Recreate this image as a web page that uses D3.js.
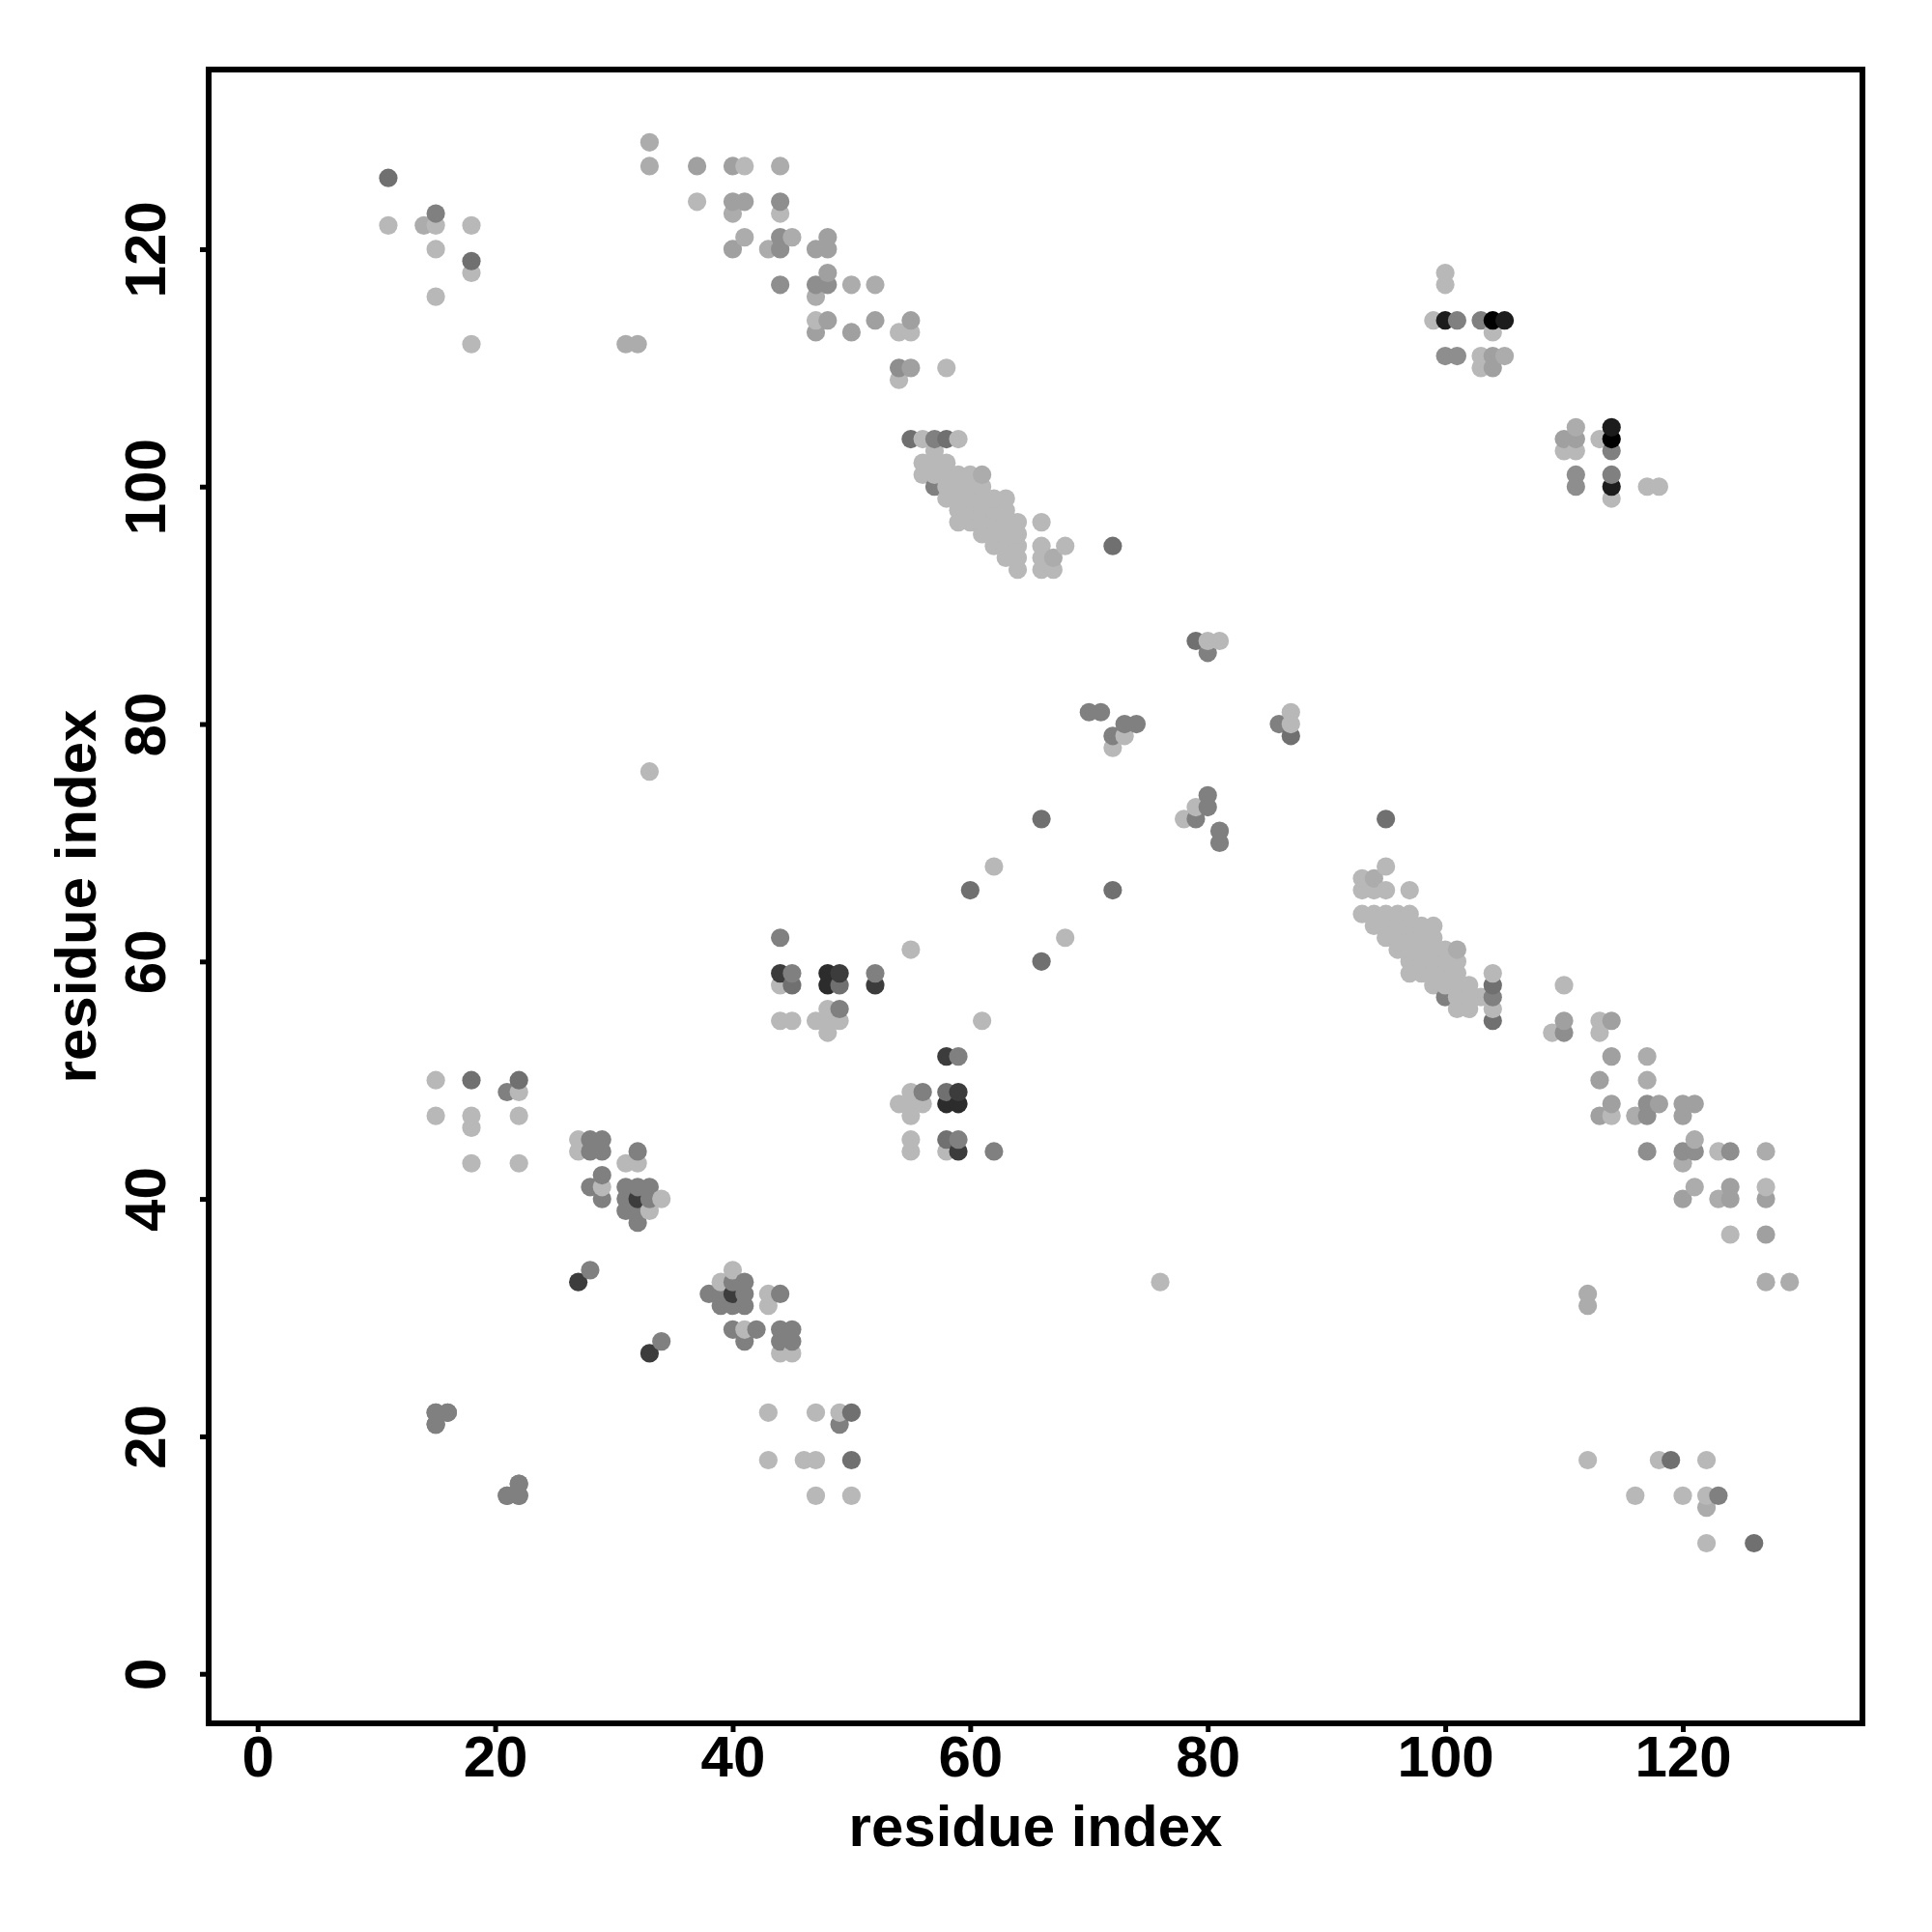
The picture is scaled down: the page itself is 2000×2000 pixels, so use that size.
<!DOCTYPE html>
<html><head><meta charset="utf-8">
<script src="https://cdn.jsdelivr.net/npm/d3@7/dist/d3.min.js"></script>
<style>html,body{margin:0;padding:0;background:#fff}svg{display:block}</style>
</head><body><div id="chart"></div>
<script>
// Contact pairs [i, j] with i < j, grouped by the grey level.
// The contact map is symmetric, so every pair is shown at (i,j) and at (j,i).
const grey184 = [[11,122],[15,122],[15,120],[15,116],[18,122],[18,118],[18,112],[37,124],[41,127],[44,123],[47,114],[54,113],[55,113],[54,109],[58,110],
 [15,50],[15,47],[18,47],[18,46],[18,43],[22,49],[22,47],[22,43],
 [27,45],[27,44],[31,43],[32,43],[29,41],[34,40],[33,39],
 [44,58],[44,55],[45,55],[47,55],[48,56],[48,55],[49,55],[48,54],[55,61],[62,68],[33,76],[72,78],[73,79],[80,87],[81,87],
 [56,104],[59,104],[56,101],[56,102],[57,101],[57,102],[57,103],[58,99],[58,100],[58,101],[58,102],
 [59,97],[59,98],[59,99],[59,100],[59,101],[60,97],[60,98],[60,99],[60,100],[60,101],
 [61,96],[61,97],[61,98],[61,99],[61,100],
 [62,95],[62,96],[62,97],[62,98],[62,99],[63,94],[63,95],[63,96],[63,97],[63,98],[63,99],
 [64,93],[64,94],[64,95],[64,96],[64,97],[66,97],[66,95],[66,94],[66,93],[67,93],[68,95],
 [100,118],[100,117],[99,114],[104,113],[103,111],[103,110]];
const grey172 = [[14,122],[31,112],[32,112],[33,129],[33,127],[44,127],[40,123],[41,121],[43,120],[45,121],[47,116],[50,117],[52,117],[61,101],[67,94],[105,111]];
const grey160 = [[37,127],[40,127],[40,124],[41,124],[40,120],[47,120],[48,120],[48,121],[48,118],[47,113],[50,113],[52,114],[48,114],[55,114],[55,110],[104,111],[104,110]];
const grey142 = [[44,124],[44,121],[44,120],[44,117],[47,117],[48,117],[54,110],[100,111],[101,111]];
const grey128 = [[15,123],[15,22],[16,22],[15,21],[21,49],[21,15],[22,15],[22,16],
 [28,45],[29,45],[28,44],[29,44],[32,44],[29,42],[28,41],[29,40],[31,41],[32,41],[33,41],[31,40],[33,40],[31,39],[32,39],[32,38],[28,34],
 [44,62],[45,59],[49,56],[52,59],[57,104],[57,100],[70,81],[71,81],[72,79],[73,80],[74,80],[80,86],[101,114],[103,114]];
const grey112 = [[11,126],[18,119],[18,50],[22,50],[45,58],[49,58],[55,104],[58,104],[60,66],[66,72],[72,95],[79,87]];
const grey60 = [[44,59],[49,59],[27,33],[32,40],[52,58]];
const grey44 = [[48,59],[48,58]];
const grey28 = [[100,114],[105,114]];
const grey0 = [[104,114]];

const shadeGroups = [
  [184, grey184],[172, grey172],[160, grey160],[142, grey142],[128, grey128],
  [112, grey112],[60, grey60],[44, grey44],[28, grey28],[0, grey0]
];
const xTicks = [0,20,40,60,80,100,120];
const yTicks = [0,20,40,60,80,100,120];
const axisLabel = "residue index";

const font = '"Liberation Sans", Arial, sans-serif';
const frame = {left:216, right:1928, top:72, bottom:1784};
const x = d3.scaleLinear().domain([-4.124,135.13]).range([frame.left, frame.right]);
const y = d3.scaleLinear().domain([-4.174,135.13]).range([frame.bottom, frame.top]);
const grey = d3.scaleLinear().domain([0,255]).range(["#000000","#ffffff"]);

// both triangles, painted in order of x then y as in the reference
const points = shadeGroups.flatMap(([g, pairs]) =>
  pairs.flatMap(([i,j]) => [{x:i,y:j,g},{x:j,y:i,g}]))
  .sort((a,b)=>d3.ascending(a.x,b.x)||d3.ascending(a.y,b.y));

const svg = d3.select("#chart").append("svg").attr("width",2000).attr("height",2000);

svg.append("g").selectAll("circle").data(points).join("circle")
  .attr("cx",d=>x(d.x)).attr("cy",d=>y(d.y)).attr("r",9.6)
  .attr("fill",d=>grey(d.g));

svg.append("rect").attr("x",frame.left).attr("y",frame.top)
  .attr("width",frame.right-frame.left).attr("height",frame.bottom-frame.top)
  .attr("fill","none").attr("stroke","#000").attr("stroke-width",6);

const gx = svg.append("g").attr("transform",`translate(0,${frame.bottom})`)
  .call(d3.axisBottom(x).tickValues(xTicks).tickSize(9).tickSizeOuter(0).tickFormat(d3.format("d")));
gx.select(".domain").remove();
gx.selectAll("line").attr("stroke","#000").attr("stroke-width",5);
gx.selectAll("text").attr("y",55).attr("dy",0).attr("fill","#000")
  .style("font-family",font).style("font-size","60px").style("font-weight","bold");

const gy = svg.append("g").attr("transform",`translate(${frame.left},0)`)
  .call(d3.axisLeft(y).tickValues(yTicks).tickSize(9).tickSizeOuter(0).tickFormat(d3.format("d")));
gy.select(".domain").remove();
gy.selectAll("line").attr("stroke","#000").attr("stroke-width",5);
gy.selectAll("text").attr("x",0).attr("y",0).attr("dy",0)
  .attr("text-anchor","middle").attr("fill","#000")
  .attr("transform","translate(-45,0) rotate(-90)")
  .style("font-family",font).style("font-size","60px").style("font-weight","bold");

svg.append("text").attr("x",1072).attr("y",1911).attr("text-anchor","middle")
  .style("font-family",font).style("font-size","60px").style("font-weight","bold").text(axisLabel);
svg.append("text").attr("transform","translate(99,928) rotate(-90)").attr("text-anchor","middle")
  .style("font-family",font).style("font-size","60px").style("font-weight","bold").text(axisLabel);
</script></body></html>
